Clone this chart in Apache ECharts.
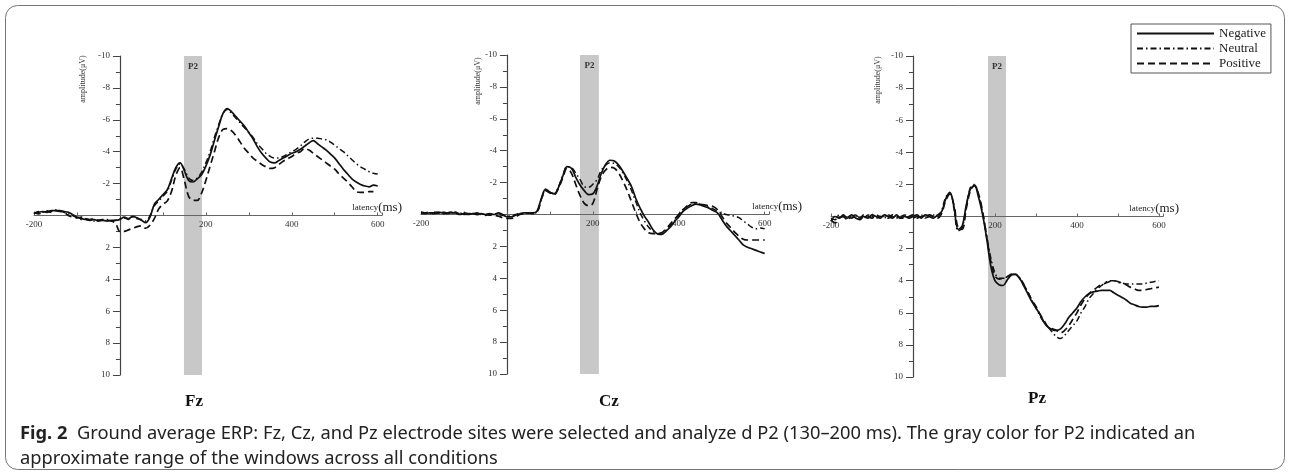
<!DOCTYPE html>
<html>
<head>
<meta charset="utf-8">
<script src="https://cdn.jsdelivr.net/npm/echarts@6/dist/echarts.min.js"></script>
<style>
html,body{margin:0;padding:0;background:#fff;}
#chart{width:1290px;height:474px;}
</style>
</head>
<body>
<div id="chart"></div>
<script>
// ---- data (latency in ms, amplitude in µV; negative plotted upward) ----
const latency = [-200,-190,-180,-170,-160,-150,-140,-130,-120,-110,-100,-90,-80,-70,-60,-50,-40,-30,-20,-10,
  0,10,20,30,40,50,60,70,80,90,100,110,120,130,140,150,160,170,180,190,
  200,210,220,230,240,250,260,270,280,290,300,310,320,330,340,350,360,370,380,390,
  400,410,420,430,440,450,460,470,480,490,500,510,520,530,540,550,560,570,580,590,600];

const conditions = ['Negative', 'Neutral', 'Positive'];
const sites = ['Fz', 'Cz', 'Pz'];
const p2Windows = [[149, 191], [170, 214], [183, 227]];
const xRange = [-200, 610];
const yRange = [-10, 10];

const fzNegative = [-0.15,-0.2,-0.25,-0.2,-0.3,-0.3,-0.3,-0.25,-0.2,-0.05,0.1,0.2,0.25,0.3,0.25,0.35,0.3,0.35,0.3,0.3,
  0.25,0.1,0.2,0.05,0.15,0.3,0.45,0.1,-0.7,-1.0,-1.3,-1.6,-2.3,-3.0,-3.3,-2.8,-2.2,-2.1,-2.3,-2.55,
  -3.1,-3.8,-4.7,-5.6,-6.4,-6.7,-6.5,-6.2,-5.9,-5.6,-5.2,-4.8,-4.3,-3.9,-3.6,-3.35,-3.3,-3.45,-3.6,-3.75,
  -3.9,-4.0,-4.15,-4.35,-4.55,-4.7,-4.5,-4.3,-4.1,-3.85,-3.6,-3.25,-2.9,-2.6,-2.3,-2.1,-1.95,-1.85,-1.8,-1.9,-1.85];
const fzNeutral = [-0.1,-0.25,-0.2,-0.3,-0.25,-0.35,-0.3,-0.2,-0.1,0.0,0.15,0.25,0.2,0.3,0.35,0.3,0.3,0.25,0.35,0.3,
  0.2,0.15,0.25,0.1,0.2,0.25,0.35,0.0,-0.6,-0.9,-1.2,-1.5,-2.2,-2.9,-3.25,-2.9,-2.35,-2.2,-2.35,-2.7,
  -3.3,-4.0,-4.9,-5.7,-6.4,-6.65,-6.4,-6.1,-5.8,-5.5,-5.2,-4.9,-4.5,-4.2,-3.9,-3.7,-3.6,-3.6,-3.7,-3.85,
  -4.0,-4.15,-4.35,-4.6,-4.8,-4.85,-4.85,-4.8,-4.75,-4.6,-4.4,-4.2,-4.0,-3.75,-3.5,-3.25,-3.05,-2.9,-2.75,-2.65,-2.6];
const fzPositive = [-0.2,-0.1,-0.2,-0.25,-0.2,-0.3,-0.25,-0.2,0.0,0.1,0.15,0.1,0.2,0.25,0.2,0.3,0.25,0.3,0.35,0.5,
  1.0,1.0,0.9,0.8,0.7,0.65,0.8,0.6,0.2,-0.4,-0.7,-0.9,-1.5,-2.5,-3.0,-2.2,-1.2,-0.95,-0.95,-1.4,
  -2.2,-3.1,-4.0,-4.9,-5.4,-5.45,-5.3,-5.0,-4.6,-4.2,-3.9,-3.6,-3.4,-3.2,-3.05,-2.95,-3.0,-3.2,-3.4,-3.55,
  -3.7,-3.9,-4.0,-4.2,-4.1,-3.9,-3.7,-3.5,-3.3,-3.1,-2.9,-2.6,-2.35,-2.1,-1.8,-1.5,-1.45,-1.45,-1.5,-1.5,null];

const czNegative = [-0.1,-0.05,-0.1,-0.1,-0.15,-0.1,-0.05,-0.1,-0.1,0.0,-0.05,0.0,-0.05,0.0,-0.05,0.0,-0.05,0.0,-0.1,0.0,
  0.15,0.15,0.05,-0.05,-0.1,-0.1,-0.1,-0.2,-1.0,-1.6,-1.4,-1.3,-1.7,-2.4,-3.0,-2.9,-2.35,-1.85,-1.5,-1.25,
  -1.3,-1.8,-2.6,-3.15,-3.4,-3.35,-3.1,-2.7,-2.25,-1.75,-1.0,-0.4,0.1,0.5,0.95,1.2,1.25,1.05,0.8,0.45,
  0.15,-0.2,-0.4,-0.55,-0.65,-0.6,-0.5,-0.4,-0.25,-0.1,0.3,0.7,1.0,1.3,1.6,1.9,2.05,2.15,2.25,2.35,2.45];
const czNeutral = [-0.15,-0.1,-0.05,-0.15,-0.1,-0.05,-0.1,-0.15,-0.05,-0.1,0.0,-0.05,-0.1,0.0,0.0,-0.05,0.05,-0.05,0.0,0.05,
  0.1,0.1,0.0,-0.05,-0.05,-0.1,-0.1,-0.15,-0.9,-1.55,-1.4,-1.3,-1.75,-2.45,-3.0,-2.95,-2.6,-2.2,-1.75,-1.7,
  -1.9,-2.2,-2.8,-3.1,-3.25,-3.2,-3.0,-2.6,-2.1,-1.5,-0.8,-0.1,0.4,0.8,1.05,1.2,1.15,1.0,0.7,0.4,
  0.0,-0.3,-0.5,-0.65,-0.7,-0.65,-0.55,-0.45,-0.35,-0.2,-0.1,0.0,0.05,0.1,0.2,0.4,0.6,0.8,0.9,0.85,0.9];
const czPositive = [-0.05,-0.1,-0.15,-0.05,-0.1,-0.15,-0.1,-0.05,-0.15,-0.05,-0.1,-0.05,0.0,-0.1,0.0,0.05,0.0,0.05,0.1,0.2,
  0.25,0.25,0.15,0.0,-0.05,-0.1,-0.05,-0.15,-0.95,-1.5,-1.35,-1.25,-1.65,-2.3,-2.9,-2.6,-1.9,-1.2,-0.7,-0.55,
  -0.7,-1.6,-2.4,-2.8,-2.95,-2.9,-2.6,-2.1,-1.5,-0.8,-0.1,0.5,0.9,1.15,1.2,1.2,1.15,0.9,0.6,0.3,
  0.0,-0.3,-0.55,-0.75,-0.75,-0.65,-0.6,-0.55,-0.5,-0.3,0.1,0.5,0.8,1.1,1.35,1.55,1.6,1.6,1.6,1.6,1.6];

const pzNegative = [0.3,0.0,0.1,-0.1,0.1,-0.1,0.1,0.2,0.0,0.1,-0.1,0.0,0.1,-0.1,0.0,0.1,-0.1,0.1,0.0,0.1,
  0.0,-0.1,0.1,-0.1,0.0,0.1,-0.1,-0.3,-1.1,-1.5,-0.6,0.8,0.6,-0.7,-1.7,-1.9,-1.2,-0.1,1.4,3.1,
  4.0,4.25,4.3,3.95,3.65,3.6,3.85,4.3,4.8,5.3,5.7,6.1,6.6,6.9,7.05,7.1,7.0,6.7,6.3,6.0,
  5.7,5.3,5.0,4.8,4.7,4.65,4.6,4.6,4.6,4.75,4.9,5.05,5.2,5.4,5.5,5.6,5.65,5.65,5.6,5.6,5.55];
const pzNeutral = [0.1,0.2,-0.1,0.0,0.2,0.0,-0.1,0.1,0.1,-0.1,0.0,0.1,0.0,0.1,-0.1,0.0,0.1,0.0,-0.1,0.0,
  0.1,0.0,-0.1,0.1,0.0,-0.1,0.0,-0.4,-1.2,-1.45,-0.5,0.9,0.7,-0.6,-1.8,-2.0,-1.3,-0.2,1.2,2.6,
  3.5,3.85,3.85,3.75,3.6,3.6,3.8,4.2,4.7,5.2,5.7,6.2,6.6,6.9,7.2,7.5,7.6,7.4,7.1,6.8,
  6.5,6.0,5.6,5.1,4.8,4.5,4.3,4.1,4.0,4.0,4.1,4.15,4.2,4.2,4.2,4.2,4.2,4.15,4.1,4.05,4.0];
const pzPositive = [0.2,0.4,0.1,0.0,-0.1,0.1,0.0,0.1,-0.1,0.0,0.1,-0.1,0.0,0.0,0.1,-0.1,0.0,0.1,0.1,0.0,
  -0.1,0.1,0.0,0.0,-0.1,0.0,0.1,-0.2,-1.0,-1.4,-0.7,0.7,0.8,-0.5,-1.6,-1.95,-1.4,-0.3,1.3,2.8,
  3.7,3.9,3.85,3.75,3.6,3.6,3.85,4.25,4.7,5.2,5.6,6.1,6.5,6.9,7.0,7.1,7.25,7.1,6.8,6.4,
  6.0,5.5,5.1,4.8,4.6,4.4,4.25,4.15,4.05,4.0,4.05,4.15,4.25,4.4,4.5,4.6,4.6,4.55,4.5,4.45,4.4];

const siteSeries = [
  [fzNegative, fzNeutral, fzPositive],
  [czNegative, czNeutral, czPositive],
  [pzNegative, pzNeutral, pzPositive]
];

// ---- layout / styles ----
const grids = [
  {left: 34, top: 56, width: 348, height: 319},
  {left: 421, top: 55, width: 348, height: 319},
  {left: 831, top: 56, width: 332, height: 321}
];
const nameGaps = [20, 33, 16];
const lineTypes = ['solid', [6, 3, 1.5, 3], [7, 4]];
const lineWidths = [1.7, 1.5, 1.7];
const serif = 'Liberation Serif';
const ink = '#111';

const pair = ys => latency.map((x, i) => [x, ys[i]]);
// axes cross at (0 ms, 0 µV): shift each axis into the plot by the zero's fraction of the range
const zeroFracX = (0 - xRange[0]) / (xRange[1] - xRange[0]);
const zeroFracY = (0 - yRange[0]) / (yRange[1] - yRange[0]);

const xAxes = grids.map((g, i) => ({
  type: 'value', gridIndex: i, min: xRange[0], max: xRange[1], interval: 100, z: 2,
  position: 'bottom', offset: -(1 - zeroFracY) * g.height,
  splitLine: {show: false},
  axisLine: {onZero: false, lineStyle: {color: '#666', width: 1}},
  axisTick: {inside: true, length: 3, lineStyle: {color: '#666'}},
  axisLabel: {
    fontFamily: serif, fontSize: 9, color: '#333', margin: 5,
    formatter: v => (v % 200 === 0 && v !== 0) ? String(v) : ''
  },
  name: '{a|latency}{b|(ms)}',
  nameLocation: 'end',
  nameGap: nameGaps[i],
  nameTextStyle: {
    align: 'right', verticalAlign: 'bottom', padding: [0, 0, 1, 0],
    rich: {
      a: {fontFamily: serif, fontSize: 9, color: '#222'},
      b: {fontFamily: serif, fontSize: 13, color: '#222'}
    }
  }
}));

const yAxes = grids.map((g, i) => ({
  type: 'value', gridIndex: i, min: yRange[0], max: yRange[1], interval: 2, inverse: true, z: 2,
  position: 'left', offset: -zeroFracX * g.width,
  splitLine: {show: false},
  axisLine: {onZero: false, lineStyle: {color: '#444', width: 1.2}},
  axisTick: {length: 7, lineStyle: {color: '#444'}},
  minorTick: {show: true, splitNumber: 2, length: 4, lineStyle: {color: '#444'}},
  axisLabel: {
    fontFamily: serif, fontSize: 9, color: '#333', margin: 10,
    formatter: v => v === 0 ? '' : String(v)
  }
}));

const series = [];
siteSeries.forEach((set, gi) => {
  series.push({
    type: 'line', name: 'P2 window', xAxisIndex: gi, yAxisIndex: gi, data: [], z: 1, silent: true,
    markArea: {
      silent: true,
      itemStyle: {color: '#c8c8c8'},
      label: {show: true, position: 'insideTop', distance: 6, fontFamily: serif, fontSize: 9, fontWeight: 'bold', color: '#333'},
      data: [[{name: 'P2', xAxis: p2Windows[gi][0], yAxis: yRange[0]}, {xAxis: p2Windows[gi][1], yAxis: yRange[1]}]]
    }
  });
  set.forEach((ys, ci) => {
    series.push({
      type: 'line', name: conditions[ci], xAxisIndex: gi, yAxisIndex: gi,
      data: pair(ys), showSymbol: false, symbol: 'none', smooth: 0.35, z: 3,
      connectNulls: false,
      lineStyle: {color: ink, width: lineWidths[ci], type: lineTypes[ci]},
      itemStyle: {color: ink}
    });
  });
});

const titlePos = [[194, 402], [609, 402], [1037, 399]];
const yNamePos = [[83, 79], [478, 81], [878, 80]];
const captionSize = 18.3;

const graphic = [
  {type: 'rect', silent: true, z: -10, shape: {x: 5.5, y: 5.5, width: 1279, height: 464, r: 12},
   style: {fill: 'none', stroke: '#777', lineWidth: 1}}
];
sites.forEach((s, i) => {
  graphic.push({type: 'text', x: titlePos[i][0], y: titlePos[i][1], silent: true,
    style: {text: s, font: 'bold 17px "Liberation Serif"', fill: '#111', align: 'center', verticalAlign: 'middle'}});
  graphic.push({type: 'text', x: yNamePos[i][0], y: yNamePos[i][1], rotation: Math.PI / 2, silent: true,
    style: {text: 'amplitude(μV)', font: '8px "Liberation Serif"', fill: '#333', align: 'center', verticalAlign: 'middle'}});
});
graphic.push({type: 'text', x: 20, y: 434, silent: true,
  style: {
    text: '{b|Fig. 2}  Ground average ERP: Fz, Cz, and Pz electrode sites were selected and analyze d P2 (130–200 ms). The gray color for P2 indicated an',
    font: captionSize + 'px "Noto Sans"', fill: '#222', verticalAlign: 'middle',
    rich: {b: {font: 'bold ' + captionSize + 'px "Noto Sans"', fill: '#222'}}
  }});
graphic.push({type: 'text', x: 20, y: 459, silent: true,
  style: {text: 'approximate range of the windows across all conditions', font: captionSize + 'px "Noto Sans"', fill: '#222', verticalAlign: 'middle'}});

const chart = echarts.init(document.getElementById('chart'), null, {renderer: 'canvas'});
chart.setOption({
  animation: false,
  backgroundColor: '#fff',
  grid: grids,
  xAxis: xAxes,
  yAxis: yAxes,
  legend: {
    data: conditions, orient: 'vertical', left: 1131, top: 24,
    padding: [3, 5, 3, 5], itemGap: 2, itemWidth: 77, itemHeight: 10,
    borderColor: '#555', borderWidth: 1, selectedMode: false,
    itemStyle: {color: 'rgba(0,0,0,0)', borderWidth: 0, opacity: 0},
    textStyle: {fontFamily: serif, fontSize: 13, color: '#222'}
  },
  series: series,
  graphic: graphic
});
</script>
</body>
</html>
